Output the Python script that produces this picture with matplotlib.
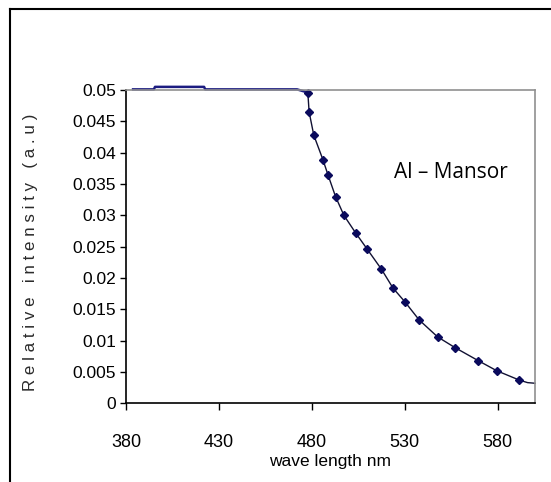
import matplotlib
matplotlib.use("Agg")
import matplotlib.pyplot as plt
from matplotlib.lines import Line2D
from matplotlib import font_manager

# flat top part (no markers)
flat_nm = [383.8, 395.0, 395.6, 422.0, 422.6, 472.0, 477.8]
flat_int = [0.0501, 0.0501, 0.0505, 0.0505, 0.0501, 0.0501, 0.0496]

# measured points on the falling part
wl_nm = [477.8, 478.5, 481.0, 485.9, 488.6, 492.7, 497.2, 503.5, 509.5,
         517.4, 523.6, 530.0, 537.7, 547.6, 556.9, 569.5, 579.4, 591.6]
intensity = [0.0496, 0.0465, 0.0428, 0.0389, 0.0365, 0.0330, 0.0300, 0.0272, 0.0247,
             0.0214, 0.0184, 0.0162, 0.0133, 0.0106, 0.0089, 0.0068, 0.0052, 0.0037]
# tail of the line past the last point
tail_nm = [591.6, 596.0, 600.0]
tail_int = [0.0037, 0.0033, 0.0032]

x_ticks = [380, 430, 480, 530, 580]
y_ticks = [0, 0.005, 0.01, 0.015, 0.02, 0.025, 0.03, 0.035, 0.04, 0.045, 0.05]
y_labels = ["0", "0.005", "0.01", "0.015", "0.02", "0.025", "0.03", "0.035", "0.04", "0.045", "0.05"]

names = set(f.name for f in font_manager.fontManager.ttflist)
narrow = [n for n in ["Liberation Sans Narrow", "DejaVu Sans Condensed"] if n in names]
narrow = (narrow or ["Liberation Sans"]) + ["DejaVu Sans"]

fig = plt.figure(figsize=(5.51, 4.82), dpi=100)
ax = fig.add_axes([126 / 551, 1 - 403.3 / 482, (535 - 126) / 551, (403.3 - 90) / 482])

ax.plot(flat_nm, flat_int, color="#1c1c80", lw=1.8, clip_on=False)
ax.plot(tail_nm, tail_int, color="#111133", lw=1.0, clip_on=False)
ax.plot(wl_nm, intensity, color="#111133", lw=1.0, marker="D", ms=4.5,
        mfc="#0a0a5c", mec="#0a0a5c", clip_on=False)

ax.set_xlim(380, 600)
ax.set_ylim(0, 0.05)
ax.set_xticks(x_ticks)
ax.set_xticklabels([str(t) for t in x_ticks], family=narrow, fontsize=13)
ax.set_yticks(y_ticks)
ax.set_yticklabels(y_labels, family=narrow, fontsize=12.5)
ax.tick_params(axis="x", direction="out", length=5, width=1, pad=17, colors="black")
ax.tick_params(axis="y", direction="out", length=4, width=1, pad=3, colors="black")

ax.spines["left"].set_color("black")
ax.spines["bottom"].set_color("black")
ax.spines["top"].set_color("#909090")
ax.spines["right"].set_color("#909090")
for s in ax.spines.values():
    s.set_linewidth(1.2)

ax.set_xlabel("wave length nm", family=narrow, fontsize=12.5, labelpad=2)
fig.text(31 / 551, 1 - 252 / 482, "R e l a t i v e   i n t e n s i t y   ( a . u )",
         family=narrow, fontsize=12.2, rotation=90, ha="center", va="center",
         color="#2a2a2a")

ax.text(451 / 551, 1 - 173 / 482, "Al \u2013 Mansor", transform=fig.transFigure,
        family=["Open Sans", "DejaVu Sans"], fontsize=15, ha="center", va="center")

# outer frame of the picture
fig.add_artist(Line2D([10 / 551, 1.0], [1 - 9 / 482, 1 - 9 / 482],
                      transform=fig.transFigure, color="black", lw=1.5))
fig.add_artist(Line2D([10 / 551, 10 / 551], [0, 1 - 9 / 482],
                      transform=fig.transFigure, color="black", lw=1.5))

fig.savefig("out.png", dpi=100)
